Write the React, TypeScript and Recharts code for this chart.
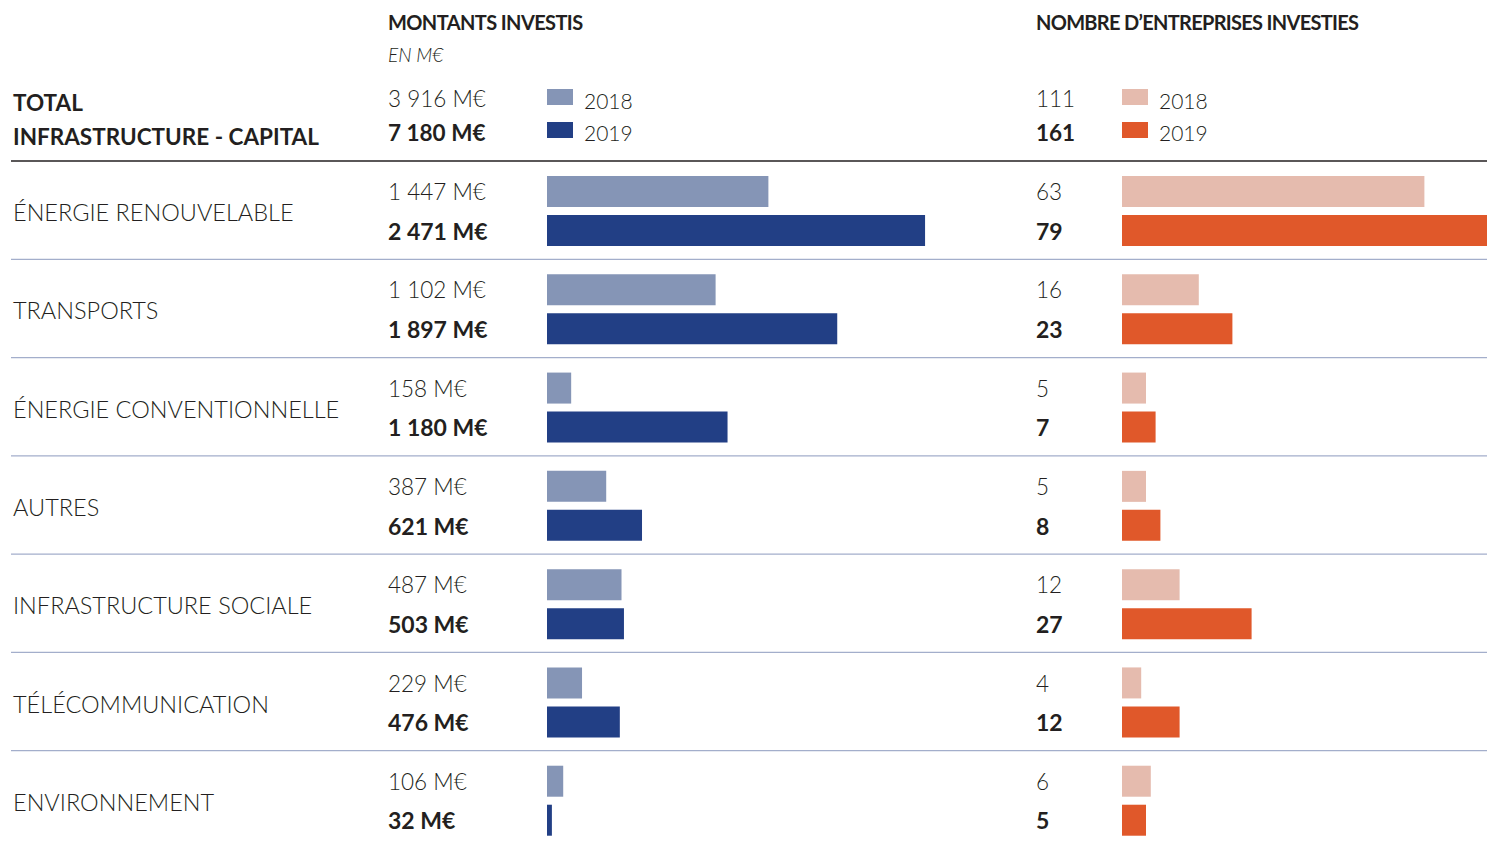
import React from "react";
import { BarChart, Bar, XAxis, YAxis } from "recharts";

const categories = [
  "ÉNERGIE RENOUVELABLE",
  "TRANSPORTS",
  "ÉNERGIE CONVENTIONNELLE",
  "AUTRES",
  "INFRASTRUCTURE SOCIALE",
  "TÉLÉCOMMUNICATION",
  "ENVIRONNEMENT",
];
const montants2018 = [1447, 1102, 158, 387, 487, 229, 106];
const montants2019 = [2471, 1897, 1180, 621, 503, 476, 32];
const entreprises2018 = [63, 16, 5, 5, 12, 4, 6];
const entreprises2019 = [79, 23, 7, 8, 27, 12, 5];
const years = ["2018", "2019"];
const totalMontants = [3916, 7180];
const totalEntreprises = [111, 161];
const titleLeft = "MONTANTS INVESTIS";
const subtitleLeft = "EN M€";
const titleRight = "NOMBRE D’ENTREPRISES INVESTIES";
const totalLabel = ["TOTAL", "INFRASTRUCTURE - CAPITAL"];

const leftColors = ["#8595b6", "#223f85"];
const rightColors = ["#e5bbae", "#e0582a"];
const TEXT = "#231f20";
const FONT = "Lato, 'Open Sans', sans-serif";

const data = categories.map((name, i) => ({
  name,
  m2018: montants2018[i],
  m2019: montants2019[i],
  e2018: entreprises2018[i],
  e2019: entreprises2019[i],
}));

const fmt = (v: number) => v.toString().replace(/\B(?=(\d{3})+(?!\d))/g, " ");
const fmtM = (v: number) => `${fmt(v)} M€`;

const W = 1487;
const H = 845;
const CHART_H = 850;
const TOP = 162;
const BAND = (CHART_H - TOP) / categories.length;
const OFF = 19.5;

const LeftTick = (props: any) => {
  const { y, payload } = props;
  const i = payload?.index ?? props.index ?? 0;
  const top = y - BAND / 2 - 1;
  return (
    <g>
      <line
        x1={11}
        x2={W}
        y1={top}
        y2={top}
        stroke={i === 0 ? "#231f20" : "#a3aecb"}
        strokeWidth={i === 0 ? 1.6 : 1.3}
      />
      <text x={13} y={y + 1} dominantBaseline="central" fontFamily={FONT} fontSize={23.5} fontWeight={300} fill={TEXT}>
        {payload.value}
      </text>
      <text x={388} y={y - OFF} dominantBaseline="central" fontFamily={FONT} fontSize={22.5} fontWeight={300} fill={TEXT}>
        {fmtM(montants2018[i])}
      </text>
      <text x={388} y={y + OFF} dominantBaseline="central" fontFamily={FONT} fontSize={23} fontWeight={700} fill={TEXT}>
        {fmtM(montants2019[i])}
      </text>
    </g>
  );
};

const RightTick = (props: any) => {
  const { y, payload } = props;
  const i = payload?.index ?? props.index ?? 0;
  return (
    <g>
      <text x={1036} y={y - OFF} dominantBaseline="central" fontFamily={FONT} fontSize={22.5} fontWeight={300} fill={TEXT}>
        {fmt(entreprises2018[i])}
      </text>
      <text x={1036} y={y + OFF} dominantBaseline="central" fontFamily={FONT} fontSize={23} fontWeight={700} fill={TEXT}>
        {fmt(entreprises2019[i])}
      </text>
    </g>
  );
};

const Header = () => (
  <svg width={W} height={H} style={{ position: "absolute", left: 0, top: 0 }}>
    <g fontFamily={FONT} fill={TEXT}>
      <text x={388} y={22} dominantBaseline="central" fontSize={20} fontWeight={700} letterSpacing={-0.6}>
        {titleLeft}
      </text>
      <text x={388} y={54} dominantBaseline="central" fontSize={19} fontStyle="italic" fontWeight={300}>
        {subtitleLeft}
      </text>
      <text x={1036} y={22} dominantBaseline="central" fontSize={20} fontWeight={700} letterSpacing={-0.7}>
        {titleRight}
      </text>
      <text x={13} y={102} dominantBaseline="central" fontSize={22.5} fontWeight={700}>
        {totalLabel[0]}
      </text>
      <text x={13} y={136} dominantBaseline="central" fontSize={22.5} fontWeight={700}>
        {totalLabel[1]}
      </text>
      {years.map((yr, k) => (
        <g key={yr}>
          <text x={388} y={98 + k * 34} dominantBaseline="central" fontSize={22.5} fontWeight={k === 0 ? 300 : 700}>
            {fmtM(totalMontants[k])}
          </text>
          <rect x={547} y={89 + k * 33} width={26} height={16} fill={leftColors[k]} />
          <text x={584} y={100 + k * 32} dominantBaseline="central" fontSize={21} fontWeight={300}>
            {yr}
          </text>
          <text x={1036} y={98 + k * 34} dominantBaseline="central" fontSize={22.5} fontWeight={k === 0 ? 300 : 700}>
            {fmt(totalEntreprises[k])}
          </text>
          <rect x={1122} y={89 + k * 33} width={26} height={16} fill={rightColors[k]} />
          <text x={1159} y={100 + k * 32} dominantBaseline="central" fontSize={21} fontWeight={300}>
            {yr}
          </text>
        </g>
      ))}
    </g>
  </svg>
);

export default function App() {
  return (
    <div
      style={{
        position: "absolute",
        left: 0,
        top: 0,
        width: W,
        height: H,
        overflow: "hidden",
        background: "#ffffff",
      }}
    >
      <Header />
      <div style={{ position: "absolute", left: 0, top: 0 }}>
        <BarChart
          width={W}
          height={CHART_H}
          data={data}
          layout="vertical"
          margin={{ top: TOP, right: W - 1006, bottom: 0, left: 0 }}
          barSize={31}
          barGap={8}
        >
          <XAxis type="number" domain={[0, 3000]} hide allowDataOverflow />
          <YAxis type="category" dataKey="name" width={547} axisLine={false} tickLine={false} tick={<LeftTick />} interval={0} />
          <Bar dataKey="m2018" name={years[0]} fill={leftColors[0]} isAnimationActive={false} />
          <Bar dataKey="m2019" name={years[1]} fill={leftColors[1]} isAnimationActive={false} />
        </BarChart>
      </div>
      <div style={{ position: "absolute", left: 0, top: 0 }}>
        <BarChart
          width={1506}
          height={CHART_H}
          data={data}
          layout="vertical"
          margin={{ top: TOP, right: 0, bottom: 0, left: 0 }}
          barSize={31}
          barGap={8}
        >
          <XAxis type="number" domain={[0, 80]} hide allowDataOverflow />
          <YAxis type="category" dataKey="name" width={1122} axisLine={false} tickLine={false} tick={<RightTick />} interval={0} />
          <Bar dataKey="e2018" name={years[0]} fill={rightColors[0]} isAnimationActive={false} />
          <Bar dataKey="e2019" name={years[1]} fill={rightColors[1]} isAnimationActive={false} />
        </BarChart>
      </div>
    </div>
  );
}
